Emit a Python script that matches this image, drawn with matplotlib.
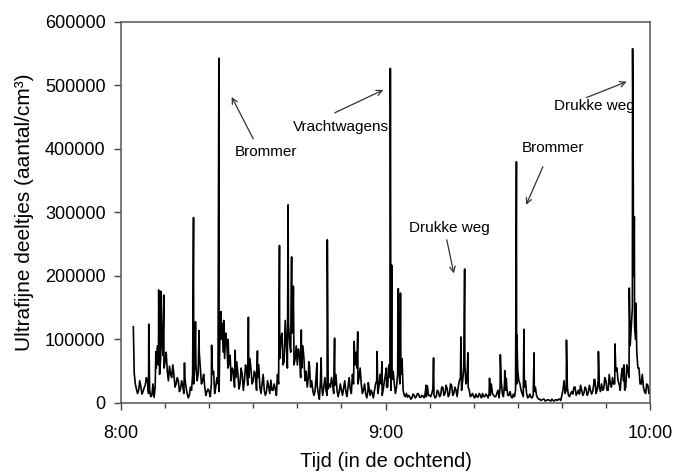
import numpy as np
import matplotlib
matplotlib.use('Agg')
import matplotlib.pyplot as plt
from matplotlib.ticker import MultipleLocator

plt.rcParams['font.family'] = ['Liberation Sans', 'DejaVu Sans']

# Background level, one value every half minute from 8:03 (x1000 particles/cm3)
base_start = 3.0
base_step = 0.5
base_vals = [
    47, 22, 20, 26,
    18, 28, 35, 20, 12, 9, 55, 60, 70, 75,
    65, 50, 58, 40, 45, 30, 35, 22, 28, 40,
    15, 12, 20, 30, 60, 45, 55, 35, 25, 18,
    18, 30, 50, 25, 30, 140, 125, 70, 96, 60,
    35, 50, 40, 48, 30, 45, 35, 50, 40, 52,
    35, 45, 40, 25, 30, 20, 18, 25, 36, 20,
    22, 45, 70, 110, 65, 90, 125, 80, 120, 70,
    60, 75, 55, 70, 50, 40, 25, 20, 18, 28,
    6, 30, 25, 20, 22, 25, 30, 28, 20, 18,
    20, 24, 18, 25, 22, 45, 60, 55, 40, 30,
    20, 15, 18, 12, 15, 20, 35, 25, 30, 22,
    45, 25, 40, 37, 30, 25, 60, 45, 20, 10,
    9, 10, 8, 12, 10, 14, 9, 11, 15, 27,
    12, 15, 12, 10, 18, 12, 25, 15, 22, 14,
    28, 15, 20, 25, 40, 35, 60, 40, 20, 12,
    10, 14, 9, 12, 15, 10, 12, 15, 30, 12,
    10, 20, 25, 15, 30, 25, 12, 10, 14, 20,
    50, 30, 15, 25, 15, 10, 9, 12, 25, 8,
    6, 5, 6, 4, 5, 3, 4, 5, 4, 6,
    12, 35, 20, 12, 15, 14, 25, 16, 14, 20,
    15, 22, 16, 20, 18, 37, 20, 25, 30, 22,
    35, 20, 30, 40, 30, 55, 30, 45, 35, 25,
    50, 90, 150, 120, 80, 55, 30, 25, 15, 28,
    20,
]

# In-between readings, a quarter minute after each of the above
mid_start = 3.25
mid_vals = [
    30, 15, 35, 14,
    24, 40, 15, 10, 30, 25, 90, 45, 110, 55,
    80, 35, 45, 60, 25, 40, 18, 35, 15, 25,
    8, 25, 45, 65, 35, 80, 30, 45, 12, 22,
    10, 45, 15, 40, 18, 100, 80, 110, 55, 75,
    55, 25, 65, 22, 55, 20, 60, 28, 70, 30,
    50, 20, 60, 15, 45, 12, 35, 15, 20, 30,
    12, 30, 100, 60, 130, 55, 95, 110, 60, 90,
    85, 40, 90, 35, 25, 60, 35, 12, 40, 15,
    35, 12, 40, 12, 30, 40, 15, 45, 10, 30,
    12, 35, 10, 40, 15, 30, 80, 30, 55, 15,
    30, 8, 25, 20, 8, 30, 15, 45, 12, 35,
    25, 60, 20, 50, 15, 45, 30, 70, 12, 15,
    12, 6, 14, 8, 15, 9, 12, 8, 10, 12,
    10, 22, 8, 20, 10, 25, 12, 28, 10, 30,
    12, 25, 10, 35, 20, 55, 30, 25, 10, 15,
    8, 10, 15, 8, 10, 14, 8, 12, 15, 10,
    15, 8, 35, 10, 20, 12, 18, 8, 10, 30,
    35, 20, 10, 35, 8, 14, 8, 18, 12, 6,
    4, 6, 3, 5, 4, 6, 3, 5, 6, 4,
    20, 15, 25, 10, 18, 25, 12, 20, 28, 12,
    25, 12, 28, 14, 30, 15, 35, 18, 20, 40,
    20, 45, 25, 30, 50, 35, 20, 55, 20, 60,
    40, 120, 200, 100, 55, 30, 45, 18, 30, 15,
]

# Short peaks: minutes after 8:00 and height (x1000)
spike_t = [2.8, 6.3, 7.9, 8.55, 9.05, 9.7, 14.4, 16.45, 16.9, 17.7,
           20.55, 22.2, 22.7, 23.3, 24.3, 25.9, 28.9, 30.95, 35.95, 37.9,
           38.7, 39.1, 40.9, 42.6, 44.45, 45.4, 46.8, 48.45, 52.9, 53.7,
           56.1, 58.1, 59.2, 60.2, 61.1, 61.4, 62.9, 63.4, 69.2, 70.9,
           77.1, 77.95, 78.7, 83.6, 86.05, 87.05, 87.4, 89.7, 89.8, 91.4,
           93.7, 101.05, 107.3, 108.3, 112.05, 114.1, 115.3, 116.05, 116.2, 116.45,
           116.8]
spike_v = [120, 124, 81, 178, 176, 170, 63, 292, 128, 114,
           91, 543, 144, 130, 100, 83, 135, 82, 248, 312,
           230, 184, 115, 65, 63, 71, 257, 102, 97, 112,
           32, 81, 65, 55, 527, 217, 180, 173, 28, 71,
           104, 211, 79, 39, 76, 51, 39, 380, 107, 116,
           79, 99, 37, 81, 93, 60, 181, 558, 370, 293,
           157]

# Annotations: label, text position, arrow tail, arrow head (minutes, value)
notes = [
    ("Brommer", (32.9, 395000), (30.0, 416000), (25.1, 482000)),
    ("Vrachtwagens", (49.8, 435000), (48.5, 457000), (59.5, 493000)),
    ("Drukke weg", (74.4, 276000), (73.9, 257000), (75.5, 204000)),
    ("Brommer", (97.9, 401000), (95.7, 372000), (91.9, 312000)),
    ("Drukke weg", (107.3, 467000), (105.6, 481000), (114.7, 506000)),
]

base_t = base_start + base_step * np.arange(len(base_vals))
mid_t = mid_start + base_step * np.arange(len(mid_vals))
t = np.concatenate([base_t, mid_t, spike_t])
v = np.concatenate([base_vals, mid_vals, spike_v]) * 1000.0
order = np.argsort(t, kind='stable')
t, v = t[order], v[order]

fig = plt.figure(figsize=(6.79, 4.73), dpi=100)
ax = fig.add_axes([0.1782, 0.148, 0.7791, 0.8055])

ax.plot(t, v, color='black', linewidth=1.2)

ax.set_xlim(0, 120)
ax.set_ylim(0, 600000)
ax.set_xticks([0, 60, 120])
ax.set_xticklabels(['8:00', '9:00', '10:00'])
ax.xaxis.set_minor_locator(MultipleLocator(10))
ax.set_yticks(np.arange(0, 600001, 100000))
ax.set_yticklabels([str(int(y)) for y in np.arange(0, 600001, 100000)])

ax.tick_params(axis='both', which='major', direction='out', length=5,
               width=1, color='#444444', labelsize=13, pad=6)
ax.tick_params(axis='x', which='minor', direction='out', length=3.5,
               width=1, color='#444444')
ax.tick_params(axis='x', which='major', pad=11)
for s in ax.spines.values():
    s.set_color('#555555')
    s.set_linewidth(1.1)

ax.set_xlabel('Tijd (in de ochtend)', fontsize=14.5, labelpad=7)
ax.set_ylabel('Ultrafijne deeltjes (aantal/cm³)', fontsize=15, labelpad=8)

for label, txt, tail, head in notes:
    ax.text(txt[0], txt[1], label, fontsize=11, ha='center', va='center')
    ax.annotate('', xy=head, xytext=tail,
                arrowprops=dict(arrowstyle='->', color='#333333', lw=0.9,
                                shrinkA=0, shrinkB=0))

fig.savefig('out.png', dpi=100)
